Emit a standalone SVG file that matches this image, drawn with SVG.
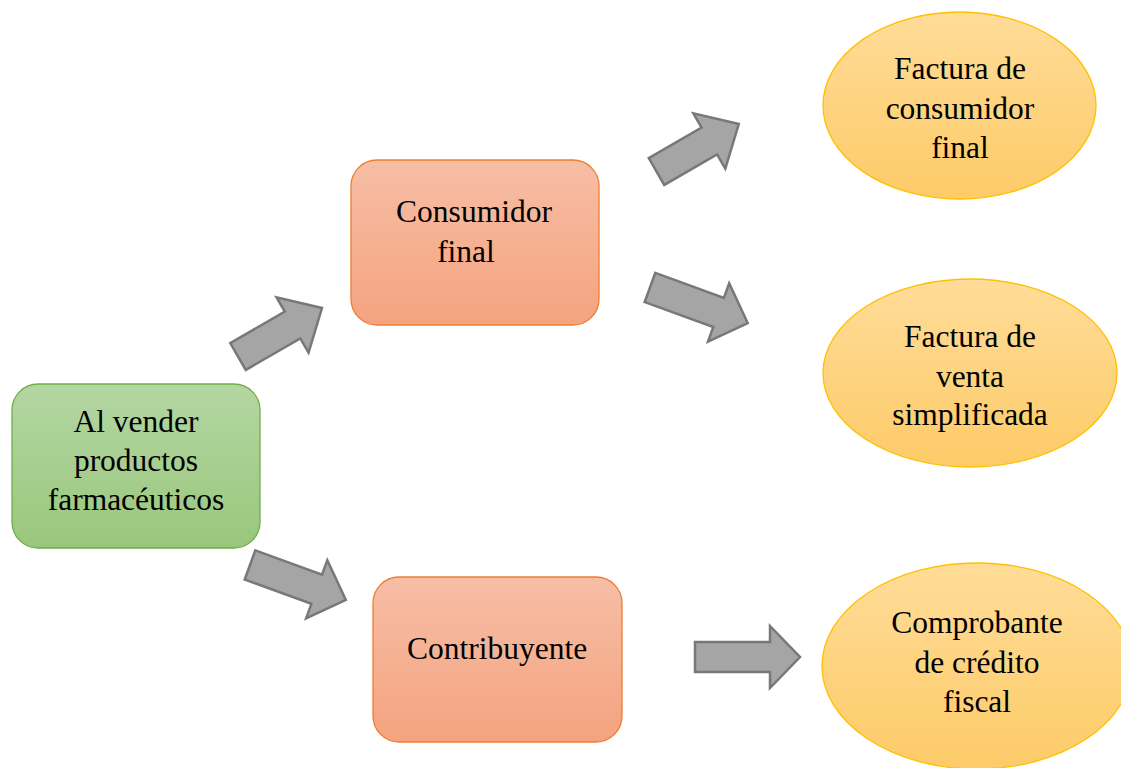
<svg xmlns="http://www.w3.org/2000/svg" width="1121" height="768" viewBox="0 0 1121 768">
<defs>
<linearGradient id="gGreen" x1="0" y1="0" x2="0" y2="1"><stop offset="0" stop-color="#b4d6a3"/><stop offset="1" stop-color="#99c77c"/></linearGradient>
<linearGradient id="gOrange" x1="0" y1="0" x2="0" y2="1"><stop offset="0" stop-color="#f7bea6"/><stop offset="1" stop-color="#f4a37f"/></linearGradient>
<linearGradient id="gGold" x1="0" y1="0" x2="0" y2="1"><stop offset="0" stop-color="#ffdc98"/><stop offset="1" stop-color="#fdcb68"/></linearGradient>
</defs>
<style>
.t{font-family:"Liberation Serif","Times New Roman",serif;font-size:31.5px;fill:#000;text-anchor:middle}
.green{fill:url(#gGreen);stroke:#70ad47;stroke-width:1.3}
.orange{fill:url(#gOrange);stroke:#ed7d31;stroke-width:1.3}
.gold{fill:url(#gGold);stroke:#ffc000;stroke-width:1.3}
.arr{fill:#a5a5a5;stroke:#787878;stroke-width:2.5;stroke-linejoin:miter}
</style>
<rect width="1121" height="768" fill="#ffffff"/>
<g id="connectors">
<path class="arr" transform="translate(238,356.5) rotate(-30)" d="M0,-15.5 H63 V-32 L97,0 L63,32 V15.5 H0 Z"/>
<path class="arr" transform="translate(656.5,171.5) rotate(-30)" d="M0,-15.5 H61 V-32 L95,0 L61,32 V15.5 H0 Z"/>
<path class="arr" transform="translate(650,287.5) rotate(20)" d="M0,-15.5 H73 V-31 L104,0 L73,31 V15.5 H0 Z"/>
<path class="arr" transform="translate(250,565) rotate(20)" d="M0,-15.5 H71 V-31 L102,0 L71,31 V15.5 H0 Z"/>
<path class="arr" d="M695,642 H770 V626 L800,657 L770,688 V672 H695 Z"/>
</g>
<g id="node-vender">
<rect class="green" x="12" y="384" width="248" height="164" rx="26"/>
<text class="t" x="136" y="432">Al vender</text>
<text class="t" x="136" y="471">productos</text>
<text class="t" x="136" y="510">farmacéuticos</text>
</g>
<g id="node-consumidor">
<rect class="orange" x="351" y="160" width="248" height="165" rx="26"/>
<text class="t" x="474" y="222">Consumidor</text>
<text class="t" x="466" y="262">final</text>
</g>
<g id="node-contribuyente">
<rect class="orange" x="373" y="577" width="249" height="165" rx="26"/>
<text class="t" x="497" y="659">Contribuyente</text>
</g>
<g id="node-factura-cf">
<ellipse class="gold" cx="959.5" cy="105.5" rx="136.5" ry="93.5"/>
<text class="t" x="960" y="79">Factura de</text>
<text class="t" x="960" y="119">consumidor</text>
<text class="t" x="960" y="158">final</text>
</g>
<g id="node-factura-vs">
<ellipse class="gold" cx="970" cy="373" rx="147" ry="94"/>
<text class="t" x="970" y="347">Factura de</text>
<text class="t" x="970" y="387">venta</text>
<text class="t" x="970" y="425">simplificada</text>
</g>
<g id="node-comprobante">
<ellipse class="gold" cx="977" cy="666" rx="155" ry="103"/>
<text class="t" x="977" y="633">Comprobante</text>
<text class="t" x="977" y="673">de crédito</text>
<text class="t" x="977" y="712">fiscal</text>
</g>
</svg>
